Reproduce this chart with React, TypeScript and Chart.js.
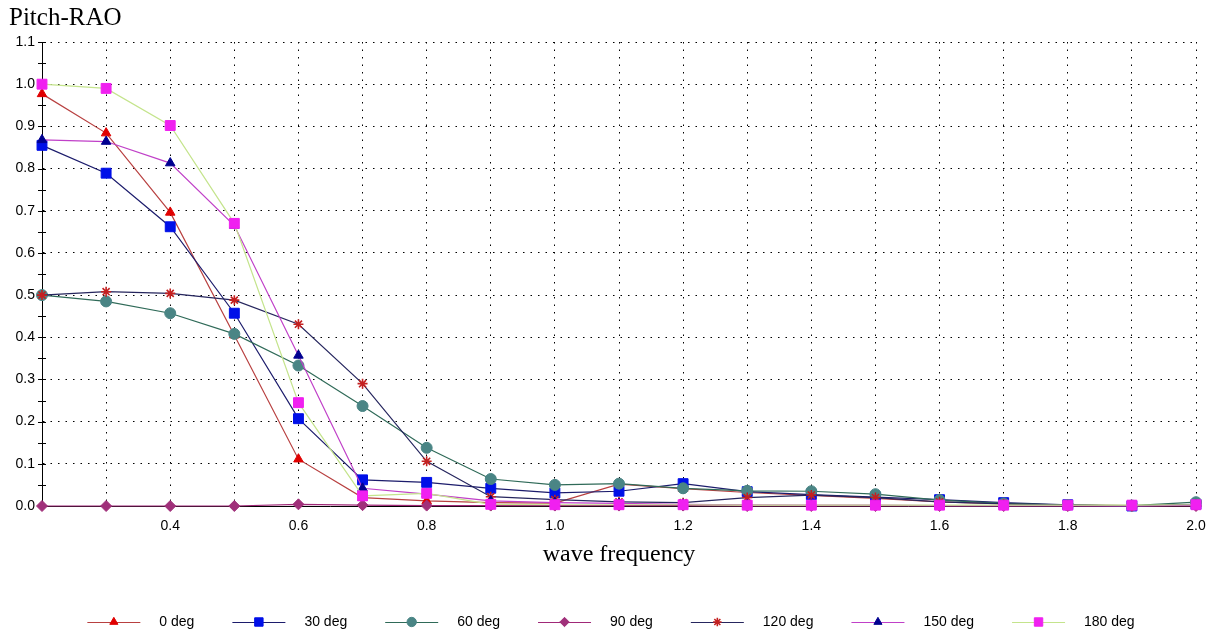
import React, { useEffect, useRef } from 'react';
import { Chart, registerables } from 'chart.js';

Chart.register(...registerables);

// ---- data ----
const frequencies = [0.2, 0.3, 0.4, 0.5, 0.6, 0.7, 0.8, 0.9, 1.0, 1.1, 1.2, 1.3, 1.4, 1.5, 1.6, 1.7, 1.8, 1.9, 2.0];
const seriesNames = ['0 deg', '30 deg', '60 deg', '90 deg', '120 deg', '150 deg', '180 deg'];
const deg0 = [0.977, 0.884, 0.696, 0.405, 0.111, 0.020, 0.012, 0.008, 0.007, 0.052, 0.041, 0.032, 0.025, 0.018, 0.010, 0.005, 0.002, 0.001, 0.002];
const deg30 = [0.855, 0.789, 0.662, 0.457, 0.207, 0.062, 0.056, 0.042, 0.031, 0.035, 0.053, 0.034, 0.027, 0.021, 0.015, 0.008, 0.003, 0.000, 0.004];
const deg60 = [0.500, 0.485, 0.457, 0.408, 0.333, 0.237, 0.138, 0.064, 0.050, 0.053, 0.042, 0.036, 0.035, 0.028, 0.014, 0.006, 0.002, 0.001, 0.009];
const deg90 = [0.000, 0.000, 0.000, 0.000, 0.004, 0.002, 0.001, 0.001, 0.001, 0.001, 0.001, 0.000, 0.000, 0.000, 0.000, 0.000, 0.000, 0.000, 0.000];
const deg120 = [0.500, 0.508, 0.504, 0.488, 0.431, 0.290, 0.106, 0.022, 0.015, 0.010, 0.008, 0.020, 0.026, 0.020, 0.010, 0.005, 0.002, 0.000, 0.003];
const deg150 = [0.868, 0.864, 0.813, 0.665, 0.357, 0.042, 0.028, 0.012, 0.008, 0.006, 0.004, 0.003, 0.002, 0.002, 0.001, 0.001, 0.001, 0.000, 0.002];
const deg180 = [1.000, 0.990, 0.902, 0.670, 0.245, 0.024, 0.030, 0.004, 0.003, 0.003, 0.003, 0.002, 0.002, 0.002, 0.002, 0.002, 0.002, 0.002, 0.003];
const seriesValues = [deg0, deg30, deg60, deg90, deg120, deg150, deg180];

// tick / grid values
const xGridValues = frequencies;
const xLabelValues = [0.4, 0.6, 0.8, 1.0, 1.2, 1.4, 1.6, 1.8, 2.0];
const yTickValues = [0, 0.05, 0.1, 0.15, 0.2, 0.25, 0.3, 0.35, 0.4, 0.45, 0.5, 0.55, 0.6, 0.65, 0.7, 0.75, 0.8, 0.85, 0.9, 0.95, 1.0, 1.05, 1.1];
const yLabelValues = [0, 0.1, 0.2, 0.3, 0.4, 0.5, 0.6, 0.7, 0.8, 0.9, 1.0, 1.1];

// ---- styles ----
type Style = { line: string; marker: string; shape: string; radius: number; bw: number };
const seriesStyles: Style[] = [
  { line: '#b84040', marker: '#e00000', shape: 'triangle', radius: 5.5, bw: 1 },
  { line: '#1c1c6c', marker: '#0010e8', shape: 'rect', radius: 7, bw: 1 },
  { line: '#2f6a58', marker: '#4a8585', shape: 'circle', radius: 5.5, bw: 1 },
  { line: '#a02878', marker: '#a0307a', shape: 'rectRot', radius: 5.5, bw: 1 },
  { line: '#26265e', marker: '#c42020', shape: 'star', radius: 5, bw: 1.6 },
  { line: '#c040c8', marker: '#000090', shape: 'triangle', radius: 5.5, bw: 1 },
  { line: '#c4e48c', marker: '#f020f0', shape: 'rect', radius: 7, bw: 1 },
];

const SANS = '"Liberation Sans", Arial, sans-serif';
const SERIF = '"Liberation Serif", "Times New Roman", serif';

function drawMarker(ctx: CanvasRenderingContext2D, shape: string, x: number, y: number, r: number, color: string, bw: number) {
  ctx.save();
  ctx.fillStyle = color;
  ctx.strokeStyle = color;
  ctx.lineWidth = bw;
  ctx.beginPath();
  if (shape === 'triangle') {
    ctx.moveTo(x, y - r);
    ctx.lineTo(x + r * 0.866, y + r / 2);
    ctx.lineTo(x - r * 0.866, y + r / 2);
    ctx.closePath();
    ctx.fill();
    ctx.stroke();
  } else if (shape === 'rect') {
    const s = r * Math.SQRT1_2;
    ctx.rect(x - s, y - s, 2 * s, 2 * s);
    ctx.fill();
    ctx.stroke();
  } else if (shape === 'rectRot') {
    ctx.moveTo(x, y - r);
    ctx.lineTo(x + r, y);
    ctx.lineTo(x, y + r);
    ctx.lineTo(x - r, y);
    ctx.closePath();
    ctx.fill();
    ctx.stroke();
  } else if (shape === 'star') {
    const d = r * Math.SQRT1_2;
    ctx.moveTo(x - r, y); ctx.lineTo(x + r, y);
    ctx.moveTo(x, y - r); ctx.lineTo(x, y + r);
    ctx.moveTo(x - d, y - d); ctx.lineTo(x + d, y + d);
    ctx.moveTo(x - d, y + d); ctx.lineTo(x + d, y - d);
    ctx.stroke();
  } else {
    ctx.arc(x, y, r, 0, Math.PI * 2);
    ctx.fill();
    ctx.stroke();
  }
  ctx.restore();
}

const axisTicksPlugin = {
  id: 'axisTicks',
  beforeDatasetsDraw(chart: any) {
    const { ctx, chartArea, scales } = chart;
    ctx.save();
    ctx.strokeStyle = '#000';
    ctx.lineWidth = 1;
    for (const v of yTickValues) {
      const y = Math.round(scales.y.getPixelForValue(v)) + 0.5;
      ctx.beginPath();
      ctx.moveTo(chartArea.left - 4, y);
      ctx.lineTo(chartArea.left + 4, y);
      ctx.stroke();
    }
    ctx.restore();
  },
};

const decorPlugin = {
  id: 'decor',
  afterDraw(chart: any) {
    const { ctx, chartArea } = chart;
    ctx.save();
    ctx.fillStyle = '#000';
    ctx.font = `25px ${SERIF}`;
    ctx.textBaseline = 'alphabetic';
    ctx.textAlign = 'left';
    ctx.fillText('Pitch-RAO', 9, 25);
    ctx.font = `24px ${SERIF}`;
    ctx.textAlign = 'center';
    ctx.fillText('wave frequency', (chartArea.left + chartArea.right) / 2, 561);

    // legend
    const legendY = 622;
    const lineLen = 53;
    const gapText = 19;
    const gapItem = 38;
    ctx.font = `14px ${SANS}`;
    const widths = seriesNames.map((n) => lineLen + gapText + ctx.measureText(n).width);
    const total = widths.reduce((a, b) => a + b, 0) + gapItem * (seriesNames.length - 1);
    let x = 611 - total / 2;
    seriesNames.forEach((name, i) => {
      const st = seriesStyles[i];
      ctx.strokeStyle = st.line;
      ctx.lineWidth = 1.2;
      ctx.beginPath();
      ctx.moveTo(x, legendY + 0.5);
      ctx.lineTo(x + lineLen, legendY + 0.5);
      ctx.stroke();
      drawMarker(ctx, st.shape, x + lineLen / 2, legendY, st.radius * 0.85, st.marker, st.bw);
      ctx.fillStyle = '#000';
      ctx.textAlign = 'left';
      ctx.textBaseline = 'middle';
      ctx.fillText(name, x + lineLen + gapText, legendY);
      x += widths[i] + gapItem;
    });
    ctx.restore();
  },
};

export default function App() {
  const canvasRef = useRef<HTMLCanvasElement | null>(null);

  useEffect(() => {
    const canvas = canvasRef.current;
    if (!canvas) return;
    const datasets = seriesNames.map((name, i) => {
      const st = seriesStyles[i];
      return {
        label: name,
        data: frequencies.map((f, j) => ({ x: f, y: seriesValues[i][j] })),
        borderColor: st.line,
        borderWidth: 1.2,
        backgroundColor: st.marker,
        pointStyle: st.shape,
        pointRadius: st.radius,
        pointBackgroundColor: st.marker,
        pointBorderColor: st.marker,
        pointBorderWidth: st.bw,
        tension: 0,
        fill: false,
        clip: false as any,
        order: seriesNames.length - i,
      };
    });

    const chart = new Chart(canvas, {
      type: 'line',
      data: { datasets },
      options: {
        responsive: false,
        animation: false,
        devicePixelRatio: 1,
        layout: { padding: { left: 0, top: 42, right: 28, bottom: 0 } },
        plugins: {
          legend: { display: false },
          title: { display: false },
          tooltip: { enabled: false },
        },
        scales: {
          x: {
            type: 'linear',
            min: 0.2,
            max: 2.0,
            afterBuildTicks: (s: any) => {
              s.ticks = xGridValues.map((v) => ({ value: v }));
            },
            afterFit: (s: any) => {
              s.height = 125;
            },
            grid: { color: '#000', lineWidth: 1, drawTicks: false },
            border: { display: true, color: '#000', width: 1, dash: [1.5, 6] },
            ticks: {
              autoSkip: false,
              maxRotation: 0,
              padding: 12,
              color: '#000',
              font: { family: SANS, size: 14 },
              callback: (v: any) => {
                const n = Math.round(Number(v) * 10);
                const hit = xLabelValues.find((l) => Math.round(l * 10) === n);
                return hit !== undefined ? hit.toFixed(1) : '';
              },
            },
          },
          y: {
            type: 'linear',
            min: 0,
            max: 1.1,
            afterBuildTicks: (s: any) => {
              s.ticks = yTickValues.map((v) => ({ value: v }));
            },
            afterFit: (s: any) => {
              s.width = 42;
            },
            grid: {
              drawTicks: false,
              lineWidth: 1,
              color: (c: any) => {
                const n = Math.round((c.tick ? c.tick.value : 0) * 20);
                return n % 2 === 0 ? '#000' : 'rgba(0,0,0,0)';
              },
            },
            border: { display: true, color: '#000', width: 1, dash: [1.5, 6] },
            ticks: {
              autoSkip: false,
              padding: 7,
              color: '#000',
              font: { family: SANS, size: 14 },
              callback: (v: any) => {
                const n = Math.round(Number(v) * 10);
                const hit = yLabelValues.find((l) => Math.round(l * 10) === n && Math.abs(l - Number(v)) < 0.01);
                return hit !== undefined ? hit.toFixed(1) : '';
              },
            },
          },
        },
      },
      plugins: [axisTicksPlugin, decorPlugin],
    } as any);

    return () => {
      chart.destroy();
    };
  }, []);

  return (
    <div style={{ position: 'fixed', left: 0, top: 0, width: 1224, height: 631, background: '#fff' }}>
      <canvas ref={canvasRef} width={1224} height={631} style={{ display: 'block', width: 1224, height: 631 }} />
    </div>
  );
}
